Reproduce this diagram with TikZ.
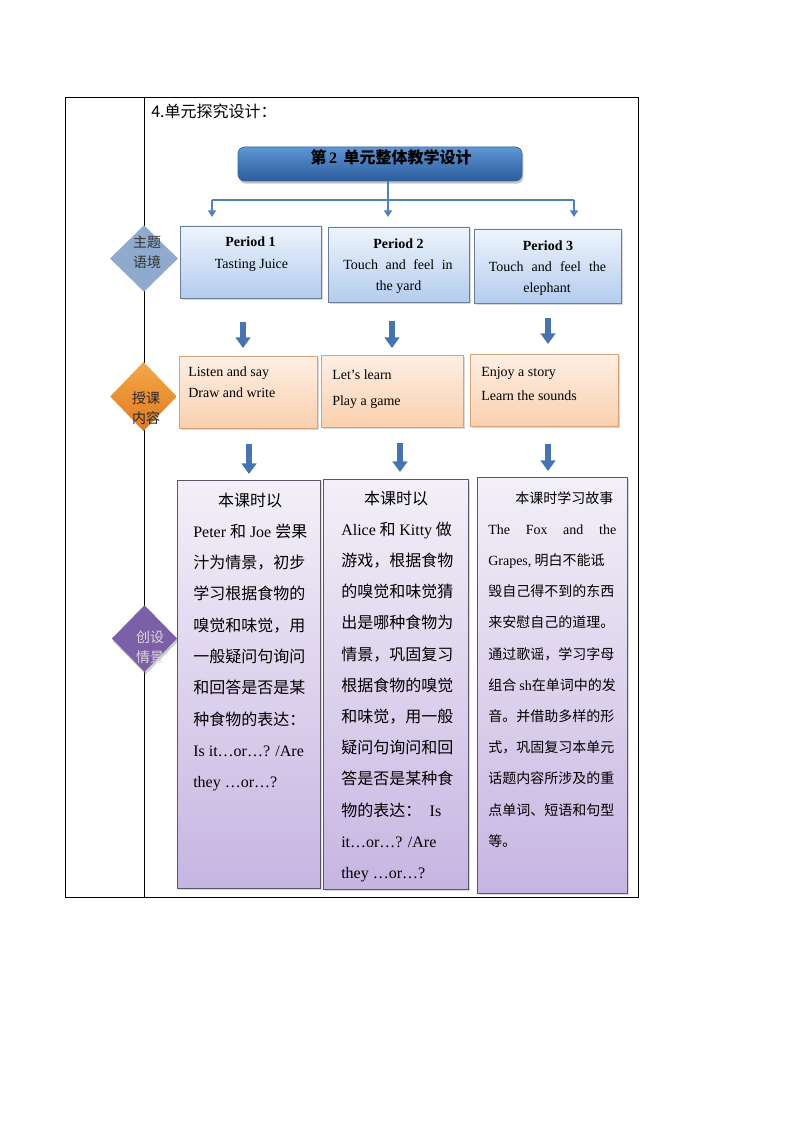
\documentclass[tikz,border=0pt]{standalone}
\usepackage{fontspec}
\setmainfont{Liberation Serif}
\newfontfamily\cjk{Noto Sans CJK SC}
\newcommand\en[1]{{\rmfamily #1}}
\usetikzlibrary{shapes.geometric,shadows,arrows.meta,fit}
\definecolor{tblueA}{HTML}{5E96D6}
\definecolor{tblueB}{HTML}{2C5C9C}
\definecolor{tbord}{HTML}{3A679F}
\definecolor{conncol}{HTML}{4F81BD}
\definecolor{ptop}{HTML}{EEF4FC}
\definecolor{pbot}{HTML}{B4CCEE}
\definecolor{pbord}{HTML}{6A7E9A}
\definecolor{ctop}{HTML}{FDEFE5}
\definecolor{cbot}{HTML}{FAD0AE}
\definecolor{cbord}{HTML}{D6A27A}
\definecolor{dtop}{HTML}{F3F0F8}
\definecolor{dbot}{HTML}{C6B5E2}
\definecolor{dbord}{HTML}{5C566C}
\definecolor{diaA}{HTML}{8FAACC}
\definecolor{diaBa}{HTML}{F5A847}
\definecolor{diaBb}{HTML}{E07A22}
\definecolor{diaC}{HTML}{7B5FA7}
\definecolor{arrcol}{HTML}{4674B2}
\begin{document}
\begin{tikzpicture}[x=0.75pt,y=-0.75pt,
  shadowed/.style={drop shadow={shadow xshift=1.2pt,shadow yshift=-1.5pt,opacity=0.3}},
  pbox/.style={draw=pbord,line width=0.6pt,top color=ptop,bottom color=pbot,inner sep=0,shadowed},
  cbox/.style={draw=cbord,line width=0.6pt,top color=ctop,bottom color=cbot,inner sep=0,shadowed},
  dbox/.style={draw=dbord,line width=0.6pt,top color=dtop,bottom color=dbot,inner sep=0,shadowed},
  ptext/.style={inner sep=0,anchor=base,font=\fontsize{10.5}{12}\selectfont},
  ctext/.style={inner sep=0,anchor=base west,font=\fontsize{10.5}{12}\selectfont},
  dtext/.style={inner sep=0,anchor=base west,font=\cjk\fontsize{12}{14}\selectfont},
  dtextsm/.style={inner sep=0,anchor=base west,font=\cjk\fontsize{10.5}{12}\selectfont},
  diatext/.style={inner sep=0,align=center,font=\cjk\fontsize{10.5}{15}\selectfont},
  connline/.style={draw=conncol,line width=1.5pt},
  connarrow/.style={draw=conncol,line width=1.5pt,-{Triangle[width=6pt,length=5pt]}},
  bigarrow/.style={draw=arrcol,line width=4.5pt,-{Triangle[width=11pt,length=8pt]}}
]
\fill[white] (0,0) rectangle (794,1123);
\useasboundingbox (0,0) rectangle (794,1123);

% table
\draw[line width=0.6pt] (65,97) rectangle (638,897);
\draw[line width=0.6pt] (144,97) -- (144,897);
\node[inner sep=0,anchor=base west,font=\cjk\fontsize{12}{14}\selectfont] (hd) at (151,118) {4.单元探究设计：};

% title box
\node[fit={(238,147) (522,181)},inner sep=0,rounded corners=5pt,draw=tbord,line width=0.5pt,
  top color=tblueA,bottom color=tblueB,
  drop shadow={shadow xshift=1pt,shadow yshift=-2pt,opacity=0.45}] (top) {};
\node[inner sep=0,anchor=base,font=\cjk\bfseries\fontsize{12}{14}\selectfont] (toptxt) at (391,164) {第\,\en{\bfseries 2}\, 单元整体教学设计};

% connectors
\coordinate (am) at (388,217);
\coordinate (al) at (212,217);
\coordinate (ar) at (574,217);
\coordinate (bl) at (212,200);
\coordinate (br) at (574,200);
\draw[connline] (bl) -- (br);
\draw[connarrow] (bl) -- (al);
\draw[connarrow] (br) -- (ar);
\draw[connarrow] (top.south -| am) -- (am);

% period boxes
\node[pbox,fit={(180,226) (321,298)}] (p1) {};
\node[pbox,fit={(328,227) (469,302)}] (p2) {};
\node[pbox,fit={(474,229) (621,303)}] (p3) {};
\node[ptext,font=\bfseries\fontsize{10.5}{12}\selectfont] (p1a) at (250.5,247) {Period 1};
\node[ptext] (p1b) at (251.5,268) {Tasting Juice};
\node[ptext,font=\bfseries\fontsize{10.5}{12}\selectfont] (p2a) at (398.5,248) {Period 2};
\node[ptext] (p2b) at (398,269) {\makebox[82pt][s]{Touch and feel in}};
\node[ptext] (p2c) at (398.5,290) {the yard};
\node[ptext,font=\bfseries\fontsize{10.5}{12}\selectfont] (p3a) at (548,250) {Period 3};
\node[ptext] (p3b) at (547.5,271) {\makebox[88pt][s]{Touch and feel the}};
\node[ptext] (p3c) at (547,292) {elephant};

% big arrows row 1
\coordinate (a1s) at (243,322); \coordinate (a1e) at (243,348);
\coordinate (a2s) at (392,321); \coordinate (a2e) at (392,348);
\coordinate (a3s) at (548,318); \coordinate (a3e) at (548,344);
\draw[bigarrow] (a1s) -- (a1e);
\draw[bigarrow] (a2s) -- (a2e);
\draw[bigarrow] (a3s) -- (a3e);

% content boxes
\node[cbox,fit={(179,356) (317,428)}] (c1) {};
\node[cbox,fit={(321,355) (463,427)}] (c2) {};
\node[cbox,fit={(470,354) (618,426)}] (c3) {};
\node[ctext] (c1a) at (188,376) {Listen and say};
\node[ctext] (c1b) at (188,397) {Draw and write};
\node[ctext] (c2a) at (332,379) {Let’s learn};
\node[ctext] (c2b) at (332,405) {Play a game};
\node[ctext] (c3a) at (481,376) {Enjoy a story};
\node[ctext] (c3b) at (481,400) {Learn the sounds};

% big arrows row 2
\coordinate (b1s) at (249,444); \coordinate (b1e) at (249,474);
\coordinate (b2s) at (400,443); \coordinate (b2e) at (400,472);
\coordinate (b3s) at (548,444); \coordinate (b3e) at (548,471);
\draw[bigarrow] (b1s) -- (b1e);
\draw[bigarrow] (b2s) -- (b2e);
\draw[bigarrow] (b3s) -- (b3e);

% description boxes
\node[dbox,fit={(177,480) (320,888)}] (d1) {};
\node[dbox,fit={(323,479) (468,889)}] (d2) {};
\node[dbox,fit={(477,477) (627,893)}] (d3) {};

\node[dtext,anchor=base] (d1l0) at (250,506) {本课时以};
\foreach \t [count=\i] in {
  \makebox[85.5pt][s]{\en{Peter} 和 \en{Joe} 尝果},
  汁为情景，初步,
  学习根据食物的,
  嗅觉和味觉，用,
  一般疑问句询问,
  和回答是否是某,
  种食物的表达：,
  \en{Is it…or…? /Are},
  \en{they …or…?}}
  \node[dtext] (d1l\i) at (193,506+31.3*\i) {\t};

\node[dtext,anchor=base] (d2l0) at (396,504) {本课时以};
\foreach \t [count=\i] in {
  \makebox[83pt][s]{\en{Alice} 和 \en{Kitty} 做},
  游戏，根据食物,
  的嗅觉和味觉猜,
  出是哪种食物为,
  情景，巩固复习,
  根据食物的嗅觉,
  和味觉，用一般,
  疑问句询问和回,
  答是否是某种食,
  \makebox[75pt][s]{物的表达：\hfill\en{Is}},
  \en{it…or…? /Are},
  \en{they …or…?}}
  \node[dtext] (d2l\i) at (341,504+31.2*\i) {\t};

\node[dtextsm] (d3l0) at (515,503) {本课时学习故事};
\foreach \t [count=\i] in {
  \makebox[96pt][s]{\en{The Fox and the}},
  {\en{Grapes,} 明白不能诋},
  毁自己得不到的东西,
  来安慰自己的道理。,
  通过歌谣，学习字母,
  组合 \en{sh}在单词中的发,
  音。并借助多样的形,
  式，巩固复习本单元,
  话题内容所涉及的重,
  点单词、短语和句型,
  等。}
  \node[dtextsm] (d3l\i) at (488,503+31.2*\i) {\t};

% diamonds
\node[diamond,fill=diaA,minimum width=51pt,minimum height=50pt,inner sep=0] (g1) at (144,258.5) {};
\node[diatext,text=black!80] (g1t) at (147,252.5) {主题\\语境};
\node[diamond,top color=diaBa,bottom color=diaBb,minimum width=50pt,minimum height=52pt,inner sep=0] (g2) at (143.5,396.5) {};
\node[diatext,text=black!85] (g2t) at (146,408) {授课\\内容};
\node[diamond,fill=diaC,minimum width=49pt,minimum height=50pt,inner sep=0,
  drop shadow={shadow xshift=0.8pt,shadow yshift=-2pt,opacity=0.4}] (g3) at (144.5,638.5) {};
\node[diatext,text=black!15] (g3t) at (150,647.5) {创设\\情景};
\end{tikzpicture}
\end{document}
